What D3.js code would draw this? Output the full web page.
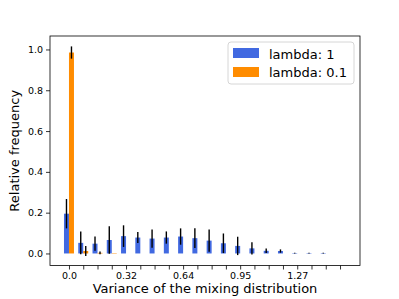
<!DOCTYPE html>
<html>
<head>
<meta charset="utf-8">
<script src="https://cdn.jsdelivr.net/npm/d3@7"></script>
<style>
  body { margin: 0; background: #fff; }
  svg { font-family: "DejaVu Sans", sans-serif; }
</style>
</head>
<body>
<div id="chart"></div>
<script>
// one bin per tick, labels on every 4th bin
const bins = d3.range(20);
const tickLabels = ['0.0', '', '', '', '0.32', '', '', '', '0.64', '', '', '', '0.95', '', '', '', '1.27', '', '', ''];
const yTicks = [0, 0.2, 0.4, 0.6, 0.8, 1.0];

const blueVals = [0.195, 0.052, 0.048, 0.066, 0.085, 0.078, 0.073, 0.078, 0.083, 0.075,
                  0.063, 0.05, 0.037, 0.025, 0.013, 0.012, 0.002, 0.002, 0.002, 0];
const blueErr  = [0.072, 0.056, 0.035, 0.067, 0.053, 0.027, 0.045, 0.03, 0.04, 0.048,
                  0.055, 0.048, 0.045, 0.03, 0.011, 0.008, 0.002, 0.002, 0.002, 0];
const orangeVals = [0.985, 0.012, 0.003, 0.002, 0, 0, 0, 0, 0, 0,
                    0, 0, 0, 0, 0, 0, 0, 0, 0, 0];
const orangeErr  = [0.03, 0.024, 0.007, 0, 0, 0, 0, 0, 0, 0,
                    0, 0, 0, 0, 0, 0, 0, 0, 0, 0];

const seriesNames = ['lambda: 1', 'lambda: 0.1'];
const seriesColors = ['#4169e1', '#ff8c00'];

const W = 399, H = 299;
const plot = { left: 50, right: 360, top: 36, bottom: 265.5 };
const barW = 0.35;

const svg = d3.select('#chart').append('svg')
  .attr('width', W)
  .attr('height', H);

const x = d3.scaleLinear()
  .domain([-1.33, 20.4])
  .range([plot.left, plot.right]);

const y = d3.scaleLinear()
  .domain([-0.059, 1.066])
  .range([plot.bottom, plot.top]);

function drawSeries(vals, errs, color, offset) {
  const g = svg.append('g');
  g.selectAll('rect')
    .data(bins)
    .enter().append('rect')
    .attr('x', i => x(i + offset))
    .attr('width', x(barW) - x(0))
    .attr('y', i => y(vals[i]))
    .attr('height', i => y(0) - y(vals[i]))
    .attr('fill', color);
  g.selectAll('line')
    .data(bins.filter(i => errs[i] > 0))
    .enter().append('line')
    .attr('x1', i => x(i + offset + barW / 2))
    .attr('x2', i => x(i + offset + barW / 2))
    .attr('y1', i => y(vals[i] - errs[i]))
    .attr('y2', i => y(vals[i] + errs[i]))
    .attr('stroke', '#000')
    .attr('stroke-width', 1.4);
}

drawSeries(blueVals, blueErr, seriesColors[0], -barW);
drawSeries(orangeVals, orangeErr, seriesColors[1], 0);

// axes
const xAxis = svg.append('g')
  .attr('transform', `translate(0,${plot.bottom})`)
  .call(d3.axisBottom(x).tickValues(bins).tickFormat(i => tickLabels[i]).tickSize(4).tickPadding(3));

const yAxis = svg.append('g')
  .attr('transform', `translate(${plot.left},0)`)
  .call(d3.axisLeft(y).tickValues(yTicks).tickFormat(d3.format('.1f')).tickSize(4).tickPadding(3));

[xAxis, yAxis].forEach(a => {
  a.select('.domain').remove();
  a.selectAll('text').style('font-size', '9.5px').attr('fill', '#000')
    .style('font-family', '"DejaVu Sans", sans-serif');
  a.selectAll('line').attr('stroke', '#000').attr('stroke-width', 0.8);
});

svg.append('rect')
  .attr('x', plot.left)
  .attr('y', plot.top)
  .attr('width', plot.right - plot.left)
  .attr('height', plot.bottom - plot.top)
  .attr('fill', 'none')
  .attr('stroke', '#000')
  .attr('stroke-width', 0.8);

// axis labels
svg.append('text')
  .attr('x', (plot.left + plot.right) / 2)
  .attr('y', 293)
  .attr('text-anchor', 'middle')
  .style('font-size', '13px')
  .text('Variance of the mixing distribution');

svg.append('text')
  .attr('transform', `translate(19,${(plot.top + plot.bottom) / 2}) rotate(-90)`)
  .attr('text-anchor', 'middle')
  .style('font-size', '13px')
  .text('Relative frequency');

// legend
const legend = svg.append('g').attr('transform', 'translate(228,42)');
legend.append('rect')
  .attr('width', 126)
  .attr('height', 42)
  .attr('rx', 3)
  .attr('fill', '#fff')
  .attr('fill-opacity', 0.8)
  .attr('stroke', '#ccc')
  .attr('stroke-width', 0.8);

seriesNames.forEach((name, k) => {
  legend.append('rect')
    .attr('x', 5)
    .attr('y', 6 + k * 19)
    .attr('width', 26)
    .attr('height', 10)
    .attr('fill', seriesColors[k]);
  legend.append('text')
    .attr('x', 41)
    .attr('y', 16.5 + k * 18.5)
    .style('font-size', '13px')
    .text(name);
});
</script>
</body>
</html>
